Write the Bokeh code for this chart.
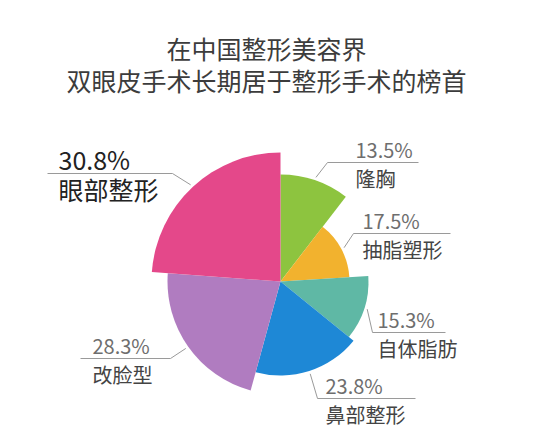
import numpy as np
from bokeh.plotting import figure
from bokeh.models import Range1d
from bokeh.core.properties import value
from bokeh.embed import file_html
from bokeh.resources import INLINE

# data, clockwise from 12 o'clock
names = ["隆胸", "抽脂塑形", "自体脂肪", "鼻部整形", "改脸型", "眼部整形"]
shares = [13.5, 17.5, 15.3, 23.8, 28.3, 30.8]
# length of each petal (the rose chart does not follow the share)
petal = [107, 69, 88, 94, 113, 129]
colors = ["#8dc43f", "#f2b22e", "#5fb8a5", "#1e88d6", "#b07cc0", "#e4488a"]

title_lines = ["在中国整形美容界", "双眼皮手术长期居于整形手术的榜首"]

FONT = value("Noto Sans CJK SC")
cx, cy = 280, -281  # centre of the rose (y goes down as negative)

p = figure(width=529, height=429, output_backend="svg", toolbar_location=None,
           x_axis_location=None, y_axis_location=None, min_border=0,
           x_range=Range1d(0, 529), y_range=Range1d(-429, 0))
p.grid.visible = False
p.outline_line_color = None
p.background_fill_color = "white"

# slice angles are proportional to the share of the total
frac = np.array(shares) / sum(shares) * 2 * np.pi
ends = np.cumsum(frac)
starts = ends - frac
mids = (starts + ends) / 2

p.wedge(x=cx, y=cy, radius=petal,
        start_angle=list(np.pi / 2 - ends), end_angle=list(np.pi / 2 - starts),
        fill_color=colors, line_color=None)

# label layout: elbow x, elbow y, end of the horizontal stroke, text x
layout = [
    (327, -162, 418, 355),
    (353, -233, 450, 362),
    (372, -332, 445, 377),
    (317, -398, 415, 325),
    (170, -358, 80, 92),
    (172, -173, 47, 58),
]

for i, (ex, ey, hx, tx) in enumerate(layout):
    r = petal[i] + 3
    sx = cx + r * np.sin(mids[i])
    sy = cy + r * np.cos(mids[i])
    p.line([sx, ex, hx], [sy, ey, ey], line_color="#9a9a9a", line_width=1)
    big = names[i] == "眼部整形"
    p.text(x=[tx], y=[ey + (15 if big else 13)], text=[f"{shares[i]}%"],
           text_font=FONT, text_font_size="25px" if big else "20px",
           text_color="#222222" if big else "#6e6e6e",
           text_baseline="middle", text_align="left")
    p.text(x=[tx], y=[ey - (15 if big else 16)], text=[names[i]],
           text_font=FONT, text_font_size="25px" if big else "20px",
           text_color="#222222" if big else "#444444",
           text_baseline="middle", text_align="left")

p.text(x=[266, 266], y=[-47, -79], text=title_lines, text_font=FONT,
       text_font_size="25px", text_color="#3c3c3c",
       text_baseline="middle", text_align="center")

open("out.html", "w").write(file_html(p, INLINE))
